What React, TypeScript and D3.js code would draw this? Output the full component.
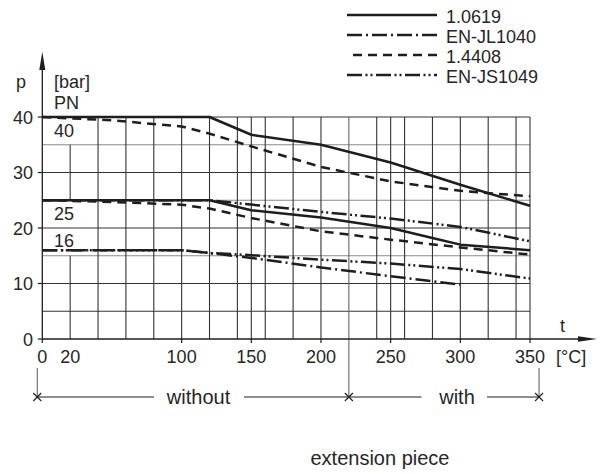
import React from "react";
import * as d3 from "d3";

type Pt = [number, number];

// ---- data (t in °C, p in bar) ----
const materials = ["1.0619", "EN-JL1040", "1.4408", "EN-JS1049"];

const steel10619_pn40: Pt[] = [[0, 40], [120, 40], [150, 36.8], [200, 35], [250, 31.8], [300, 27.8], [350, 24]];
const steel10619_pn25: Pt[] = [[0, 25], [120, 25], [150, 23.2], [200, 21.9], [250, 20], [280, 18.2], [300, 17], [350, 16]];
const steel14408_pn40: Pt[] = [[0, 40], [50, 39.4], [100, 38.3], [120, 37], [150, 34.7], [200, 31], [250, 28.4], [300, 26.7], [350, 25.7]];
const steel14408_pn25: Pt[] = [[0, 25], [50, 24.7], [100, 24.2], [120, 23.5], [150, 21.8], [200, 19.4], [250, 17.9], [300, 16.5], [350, 15.2]];
const jl1040_pn16: Pt[] = [[0, 16], [100, 16], [120, 15.5], [150, 14.6], [200, 12.9], [250, 11.3], [300, 9.8]];
const js1049_pn25: Pt[] = [[0, 25], [120, 25], [200, 22.9], [250, 21.7], [300, 20.2], [350, 17.6]];
const js1049_pn16: Pt[] = [[0, 16], [100, 16], [120, 15.5], [150, 15.1], [200, 14.3], [250, 13.6], [300, 12.6], [350, 10.9]];

const curves: { material: string; points: Pt[] }[] = [
  { material: "1.0619", points: steel10619_pn40 },
  { material: "1.0619", points: steel10619_pn25 },
  { material: "1.4408", points: steel14408_pn40 },
  { material: "1.4408", points: steel14408_pn25 },
  { material: "EN-JL1040", points: jl1040_pn16 },
  { material: "EN-JS1049", points: js1049_pn25 },
  { material: "EN-JS1049", points: js1049_pn16 },
];

const xTicks = [0, 20, 100, 150, 200, 250, 300, 350];
const xTickMarks = [0, 100, 150, 200, 250, 300, 350];
const yTicks = [0, 10, 20, 30, 40];
const gridT = [20, 40, 60, 80, 100, 120, 140, 150, 160, 180, 200, 220, 240, 250, 260, 280, 300, 320, 340, 350];
const gridP = [5, 10, 15, 20, 25, 30, 35, 40];
const lightGridP = [15, 25, 35];
const pnLabels: { text: string; p: number }[] = [
  { text: "40", p: 40 },
  { text: "25", p: 25 },
  { text: "16", p: 16 },
];
// extension piece markers, in °C
const extMarks = [-3.6, 220, 356.5];

const dashes: Record<string, string> = {
  "1.0619": "none",
  "EN-JL1040": "15 4 2 4",
  "1.4408": "9 6",
  "EN-JS1049": "15 3.5 2 3 2 3.5",
};
const legendOffsets: Record<string, number> = {
  "1.0619": 0,
  "EN-JL1040": 0,
  "1.4408": 9,
  "EN-JS1049": 0,
};

const FONT = "'Liberation Sans', Arial, sans-serif";
const INK = "#1e1e1e";
const TXT = "#262626";

export default function App() {
  const x = d3.scaleLinear().domain([0, 350]).range([42.3, 530]);
  const y = d3.scaleLinear().domain([0, 40]).range([339, 117]);
  const line = d3
    .line<Pt>()
    .x((d) => x(d[0]))
    .y((d) => y(d[1]));

  const axisY = y(0);
  const markY = 397;

  const cross = (cx: number, cy: number, k: string) => (
    <g key={k} stroke={INK} strokeWidth={1.1}>
      <line x1={cx - 4} y1={cy - 4} x2={cx + 4} y2={cy + 4} />
      <line x1={cx - 4} y1={cy + 4} x2={cx + 4} y2={cy - 4} />
    </g>
  );

  return (
    <svg
      width={605}
      height={474}
      style={{ position: "absolute", left: 0, top: 0, background: "#fff" }}
      fontFamily={FONT}
    >
      <rect width={605} height={474} fill="#fff" />
      {/* horizontal grid */}
      {gridP.map((p) => (
        <line
          key={"h" + p}
          x1={x(0)}
          x2={x(350)}
          y1={y(p)}
          y2={y(p)}
          stroke={lightGridP.includes(p) ? "#8a8a8a" : "#333"}
          strokeWidth={1.1}
        />
      ))}
      {/* vertical grid */}
      {gridT.map((t) =>
        t === 20 ? (
          <g key={"v" + t} stroke="#333" strokeWidth={1.1}>
            <line x1={x(t)} x2={x(t)} y1={y(35)} y2={y(25)} />
            <line x1={x(t)} x2={x(t)} y1={y(15)} y2={y(0)} />
          </g>
        ) : (
          <line
            key={"v" + t}
            x1={x(t)}
            x2={x(t)}
            y1={y(40)}
            y2={t === 220 ? markY : y(0)}
            stroke={t === 220 ? "#666" : "#333"}
            strokeWidth={1.1}
          />
        )
      )}

      {/* axes */}
      <line x1={x(0)} x2={x(0)} y1={axisY} y2={62} stroke={INK} strokeWidth={1.3} />
      <polygon points={`${x(0)},51.7 ${x(0) - 3},70 ${x(0) + 3},70`} fill={INK} />
      <line x1={x(0)} x2={585} y1={axisY} y2={axisY} stroke={INK} strokeWidth={1.3} />
      <polygon points={`597,${axisY} 578,${axisY - 2.8} 578,${axisY + 2.8}`} fill={INK} />
      {yTicks.map((v) => (
        <g key={"yt" + v}>
          <line x1={x(0) - 4.5} x2={x(0)} y1={y(v)} y2={y(v)} stroke={INK} strokeWidth={1.2} />
          <text x={33} y={y(v) + 6.5} textAnchor="end" fontSize={18} fill={TXT}>
            {v}
          </text>
        </g>
      ))}
      {xTickMarks.map((t) => (
        <line key={"xm" + t} x1={x(t)} x2={x(t)} y1={axisY} y2={axisY + 4} stroke={INK} strokeWidth={1.2} />
      ))}
      {xTicks.map((t) => (
        <text key={"xt" + t} x={x(t)} y={363} textAnchor="middle" fontSize={18} fill={TXT}>
          {t}
        </text>
      ))}
      <text x={560} y={332} fontSize={18} fill={TXT}>t</text>
      <text x={556} y={363} fontSize={18} fill={TXT}>[°C]</text>
      <text x={16} y={88} fontSize={18} fill={TXT}>p</text>
      <text x={54} y={88} fontSize={18} fill={TXT}>[bar]</text>
      <text x={54} y={109} fontSize={18} fill={TXT}>PN</text>
      {pnLabels.map((l) => (
        <text key={"pn" + l.text} x={54} y={l.text === "16" ? y(l.p) - 3.5 : y(l.p) + 19.5} fontSize={18} fill={TXT}>
          {l.text}
        </text>
      ))}

      {/* curves */}
      {curves.map((c, i) => (
        <path
          key={"c" + i}
          d={line(c.points) || ""}
          fill="none"
          stroke={INK}
          strokeWidth={2.5}
          strokeDasharray={dashes[c.material]}
          strokeLinejoin="round"
        />
      ))}

      {/* legend */}
      {materials.map((m, i) => (
        <g key={"lg" + m}>
          <line
            x1={347}
            x2={437}
            y1={15 + i * 20}
            y2={15 + i * 20}
            stroke={INK}
            strokeWidth={2.5}
            strokeDasharray={dashes[m]}
            strokeDashoffset={legendOffsets[m]}
          />
          <text x={446} y={22.7 + i * 20} fontSize={18} fill={TXT}>
            {m}
          </text>
        </g>
      ))}

      {/* extension piece annotation */}
      <line x1={x(extMarks[0])} x2={x(extMarks[0])} y1={368} y2={markY} stroke="#666" strokeWidth={1.1} />
      <line x1={x(extMarks[2])} x2={x(extMarks[2])} y1={368} y2={markY} stroke="#666" strokeWidth={1.1} />
      <line x1={x(extMarks[0])} x2={154} y1={markY} y2={markY} stroke={INK} strokeWidth={1.1} />
      <line x1={244} x2={421.5} y1={markY} y2={markY} stroke={INK} strokeWidth={1.1} />
      <line x1={487} x2={x(extMarks[2])} y1={markY} y2={markY} stroke={INK} strokeWidth={1.1} />
      {extMarks.map((t, i) => cross(x(t), markY, "x" + i))}
      <text x={198.5} y={404} textAnchor="middle" fontSize={20} fill={TXT}>without</text>
      <text x={457} y={404} textAnchor="middle" fontSize={20} fill={TXT}>with</text>
      <text x={380} y={465} textAnchor="middle" fontSize={20} fill={TXT}>extension piece</text>
    </svg>
  );
}
